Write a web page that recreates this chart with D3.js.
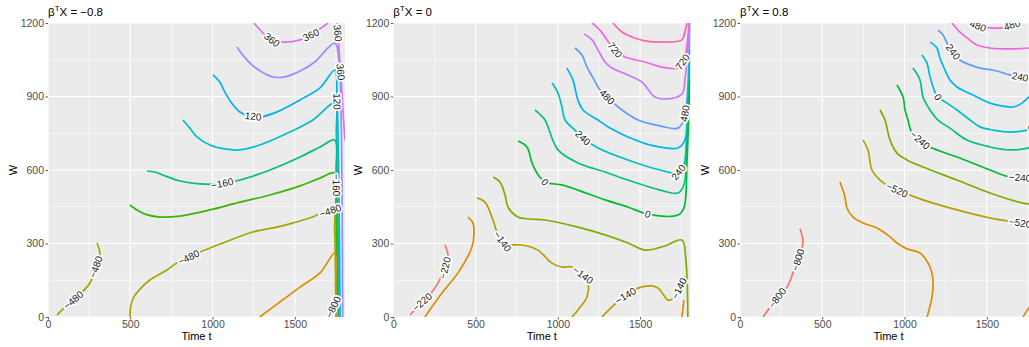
<!DOCTYPE html>
<html>
<head>
<meta charset="utf-8">
<script src="https://cdn.jsdelivr.net/npm/d3@7"></script>
<style>
  body { margin: 0; background: #fff; }
  text { font-family: "Liberation Sans", Arial, sans-serif; }
</style>
</head>
<body>
<svg id="chart"></svg>
<script>
// ---- data ----
const timeTicks = [0, 500, 1000, 1500];
const timeMinor = [250, 750, 1250, 1750];
const wTicks = [0, 300, 600, 900, 1200];
const wMinor = [150, 450, 750, 1050];
const panelTitles = ["\u22120.8", "0", "0.8"];

const panel1Levels = [-800, -640, -480, -320, -160, -20, 120, 240, 360, 480];
const panel2Levels = [-220, -180, -140, -70, 0, 120, 240, 360, 480, 600, 720, 840];
const panel3Levels = [-800, -660, -520, -380, -240, -120, 0, 120, 240, 360, 480, 600];

// contour lines: [time t, W]
const panel1Lines = [
  {level: 360, pts: [[1252,1200],[1301,1163],[1361,1131],[1428,1122],[1532,1131],[1598,1151],[1653,1176],[1702,1200]]},
  {level: 360, pts: [[1755,1200],[1762,1150],[1772,1060],[1781,980],[1792,850],[1805,720]]},
  {level: 240, pts: [[1148,1102],[1184,1069],[1239,1029],[1300,1000],[1366,980],[1439,980],[1532,1004],[1621,1041],[1743,1118],[1768,1050],[1782,800],[1788,400],[1791,0]]},
  {level: 120, pts: [[1002,988],[1044,959],[1075,918],[1117,873],[1166,837],[1227,820],[1287,816],[1378,833],[1532,886],[1653,935],[1743,1008],[1756,900],[1768,500],[1775,0]]},
  {level: -20, pts: [[820,804],[862,771],[905,735],[984,702],[1075,686],[1166,682],[1287,702],[1470,755],[1610,804],[1743,873],[1752,750],[1762,400],[1768,0]]},
  {level: -160, pts: [[602,596],[650,592],[711,576],[802,555],[923,543],[1045,543],[1166,559],[1349,600],[1532,653],[1653,694],[1743,722],[1751,600],[1758,300],[1763,0]]},
  {level: -320, pts: [[498,457],[540,437],[589,420],[680,408],[802,412],[984,437],[1166,469],[1349,498],[1532,535],[1653,567],[1743,588],[1749,450],[1755,200],[1758,0]]},
  {level: -480, pts: [[498,0],[504,49],[522,82],[559,114],[619,151],[723,192],[783,220],[923,265],[1063,302],[1245,347],[1391,367],[1488,384],[1591,404],[1731,437],[1742,350],[1748,150],[1752,0]]},
  {level: -480, pts: [[55,8],[103,40],[176,82],[255,139],[285,192],[316,253],[298,302]]},
  {level: -640, pts: [[1287,0],[1409,61],[1532,122],[1653,180],[1743,261],[1748,120],[1751,0]]},
  {level: -800, pts: [[1712,0],[1730,35],[1748,60],[1756,30],[1759,0]]}
];
const panel1Labels = [
  {text: "360", at: [1361,1131]}, {text: "360", at: [1598,1151]},
  {text: "360", at: [1762,1159]}, {text: "360", at: [1781,1000]},
  {text: "120", at: [1246,816]}, {text: "120", at: [1762,880]},
  {text: "\u2212160", at: [1058,547]}, {text: "\u2212160", at: [1754,539]},
  {text: "\u2212480", at: [1714,437]}, {text: "\u2212480", at: [851,249]},
  {text: "\u2212480", at: [164,61]}, {text: "\u2212480", at: [310,200]},
  {text: "\u2212800", at: [1735,40]}
];

const panel2Lines = [
  {level: 840, pts: [[1335,1200],[1390,1163],[1451,1143],[1530,1127],[1633,1122],[1754,1131],[1772,1163],[1785,1200]]},
  {level: 720, pts: [[1208,1200],[1256,1171],[1299,1131],[1347,1090],[1408,1061],[1530,1041],[1633,1020],[1730,1016],[1766,1049],[1785,1110],[1797,1200]]},
  {level: 600, pts: [[1159,1155],[1208,1131],[1244,1090],[1287,1041],[1329,1016],[1426,988],[1511,959],[1590,898],[1651,890],[1754,910],[1772,967],[1790,1090],[1802,1200]]},
  {level: 480, pts: [[1104,1098],[1147,1069],[1177,1020],[1214,976],[1256,927],[1299,898],[1390,845],[1488,804],[1621,780],[1730,771],[1766,804],[1785,886],[1797,1049],[1809,1200]]},
  {level: 360, pts: [[1055,1016],[1092,967],[1122,886],[1153,845],[1244,804],[1317,771],[1426,735],[1560,702],[1730,690],[1772,722],[1790,886],[1802,1090]]},
  {level: 240, pts: [[965,955],[1001,914],[1025,857],[1044,804],[1104,763],[1153,731],[1244,690],[1426,641],[1621,600],[1730,588],[1766,620],[1785,804],[1802,1049]]},
  {level: 120, pts: [[861,845],[922,804],[940,776],[1001,682],[1122,629],[1287,592],[1426,559],[1621,518],[1730,506],[1766,539],[1785,722],[1802,1008]]},
  {level: 0, pts: [[758,718],[812,694],[843,629],[873,588],[922,551],[1025,539],[1122,518],[1287,478],[1426,449],[1547,420],[1730,416],[1766,445],[1785,641],[1802,967]]},
  {level: -70, pts: [[607,571],[648,551],[679,498],[697,449],[758,408],[831,400],[922,396],[1122,367],[1287,335],[1426,302],[1530,273],[1651,290],[1754,314],[1778,233],[1790,0]]},
  {level: -140, pts: [[509,486],[557,469],[606,396],[636,335],[679,294],[721,294],[782,294],[879,273],[964,220],[1025,204],[1086,204],[1153,171],[1183,139],[1177,82],[1122,29],[1086,0]]},
  {level: -140, pts: [[1268,0],[1329,41],[1390,78],[1487,118],[1572,127],[1609,118],[1651,82],[1669,69],[1712,82],[1754,139],[1772,165]]},
  {level: -180, pts: [[454,408],[484,384],[490,335],[478,286],[393,180],[296,98],[192,0]]},
  {level: -180, pts: [[1754,0],[1766,69]]},
  {level: -220, pts: [[314,294],[332,253],[314,200],[272,139],[211,82],[175,61],[102,8]]}
];
const panel2Labels = [
  {text: "720", at: [1347,1090]}, {text: "720", at: [1760,1040]},
  {text: "480", at: [1299,898]}, {text: "480", at: [1780,830]},
  {text: "240", at: [1153,731]}, {text: "240", at: [1730,592]},
  {text: "0", at: [922,551]}, {text: "0", at: [1547,420]},
  {text: "\u2212140", at: [649,302]}, {text: "\u2212140", at: [1153,171]},
  {text: "\u2212140", at: [1408,90]}, {text: "\u2212140", at: [1730,118]},
  {text: "\u2212220", at: [314,200]}, {text: "\u2212220", at: [175,61]}
];

const panel3Lines = [
  {level: 480, pts: [[1398,1200],[1446,1188],[1519,1180],[1592,1180],[1653,1192],[1702,1200]]},
  {level: 480, pts: [[1288,1200],[1337,1163],[1380,1139],[1440,1110],[1519,1098],[1641,1094],[1756,1098],[1805,1102]]},
  {level: 240, pts: [[1203,1171],[1234,1151],[1264,1110],[1295,1082],[1337,1049],[1398,1029],[1459,1016],[1538,1008],[1641,988],[1702,980],[1756,988],[1805,1000]]},
  {level: 120, pts: [[1155,1122],[1197,1098],[1215,1057],[1246,1008],[1276,967],[1319,939],[1416,906],[1519,873],[1598,861],[1659,857],[1714,873],[1756,898],[1805,927]]},
  {level: 0, pts: [[1106,1069],[1136,1037],[1155,980],[1185,918],[1203,898],[1258,873],[1319,845],[1398,804],[1459,776],[1538,763],[1641,755],[1744,763],[1805,780]]},
  {level: -120, pts: [[1051,1016],[1094,967],[1112,898],[1155,845],[1203,804],[1276,771],[1380,722],[1519,694],[1641,682],[1756,690],[1805,702]]},
  {level: -240, pts: [[954,947],[991,898],[1003,845],[1021,804],[1045,751],[1094,722],[1155,694],[1319,653],[1519,600],[1641,571],[1756,567],[1805,576]]},
  {level: -380, pts: [[851,845],[881,804],[912,722],[954,669],[1015,641],[1112,612],[1319,559],[1519,506],[1720,465],[1805,461]]},
  {level: -520, pts: [[748,722],[778,682],[802,600],[851,559],[912,531],[954,518],[1112,478],[1319,437],[1519,404],[1623,392],[1702,384],[1805,380]]},
  {level: -660, pts: [[608,551],[638,490],[650,445],[687,408],[748,384],[833,363],[912,327],[954,302],[1015,278],[1094,261],[1155,204],[1173,151],[1167,82],[1137,0]]},
  {level: -660, pts: [[1720,0],[1756,37],[1805,69]]},
  {level: -800, pts: [[365,360],[383,302],[352,233],[322,180],[286,122],[231,82],[140,0]]}
];
const panel3Labels = [
  {text: "480", at: [1446,1188]}, {text: "480", at: [1653,1192]},
  {text: "240", at: [1295,1082]}, {text: "240", at: [1702,980]},
  {text: "0", at: [1203,898]}, {text: "0", at: [1762,780]},
  {text: "\u2212240", at: [1094,722]}, {text: "\u2212240", at: [1702,571]},
  {text: "\u2212520", at: [954,518]}, {text: "\u2212520", at: [1702,384]},
  {text: "\u2212800", at: [352,233]}, {text: "\u2212800", at: [225,78]}
];

// ggplot hue palettes
const hue10 = ["#F8766D","#D89000","#A3A500","#39B600","#00BF7D","#00BFC4","#00B0F6","#9590FF","#E76BF3","#FF62BC"];
const hue12 = ["#F8766D","#DE8C00","#B79F00","#7CAE00","#00BA38","#00C08B","#00BFC4","#00B4F0","#619CFF","#C77CFF","#F564E3","#FF64B0"];

const width = 1029, height = 347;
const plotTop = 23, plotBottom = 317, panelW = 297;

const svg = d3.select('#chart').attr('width', width).attr('height', height);

const panels = [
  {left: 48, title: panelTitles[0], lines: panel1Lines, labels: panel1Labels, levels: panel1Levels, pal: hue10},
  {left: 393.3, title: panelTitles[1], lines: panel2Lines, labels: panel2Labels, levels: panel2Levels, pal: hue12},
  {left: 740, title: panelTitles[2], lines: panel3Lines, labels: panel3Labels, levels: panel3Levels, pal: hue12}
];

function nearestOnLine(pts, at) {
  let best = null;
  for (let i = 0; i < pts.length - 1; i++) {
    const [x1, y1] = pts[i], [x2, y2] = pts[i + 1];
    const dx = x2 - x1, dy = y2 - y1;
    const L2 = dx * dx + dy * dy || 1;
    let u = ((at[0] - x1) * dx + (at[1] - y1) * dy) / L2;
    u = Math.max(0, Math.min(1, u));
    const px = x1 + u * dx, py = y1 + u * dy;
    const d = (px - at[0]) ** 2 + (py - at[1]) ** 2;
    if (!best || d < best.d) best = {d, px, py, ang: Math.atan2(dy, dx) * 180 / Math.PI};
  }
  return best;
}

panels.forEach((p, i) => {
  const x = d3.scaleLinear().domain([0, 1805]).range([p.left, p.left + panelW]);
  const y = d3.scaleLinear().domain([0, 1200]).range([plotBottom, plotTop]);
  const color = d3.scaleOrdinal().domain(p.levels).range(p.pal);

  const g = svg.append('g');
  const clipId = 'clip' + i;
  svg.append('clipPath').attr('id', clipId)
    .append('rect').attr('x', x(0)).attr('y', plotTop).attr('width', panelW).attr('height', plotBottom - plotTop);

  g.append('rect')
    .attr('x', x(0)).attr('y', plotTop).attr('width', panelW).attr('height', plotBottom - plotTop)
    .attr('fill', '#EBEBEB');

  const grid = g.append('g').attr('clip-path', `url(#${clipId})`);
  grid.selectAll('.vminor').data(timeMinor).enter().append('line')
    .attr('x1', d => x(d)).attr('x2', d => x(d)).attr('y1', plotTop).attr('y2', plotBottom)
    .attr('stroke', '#fff').attr('stroke-width', 0.55);
  grid.selectAll('.hminor').data(wMinor).enter().append('line')
    .attr('y1', d => y(d)).attr('y2', d => y(d)).attr('x1', x(0)).attr('x2', x(0) + panelW)
    .attr('stroke', '#fff').attr('stroke-width', 0.55);
  grid.selectAll('.vmajor').data(timeTicks).enter().append('line')
    .attr('x1', d => x(d)).attr('x2', d => x(d)).attr('y1', plotTop).attr('y2', plotBottom)
    .attr('stroke', '#fff').attr('stroke-width', 1.1);
  grid.selectAll('.hmajor').data(wTicks).enter().append('line')
    .attr('y1', d => y(d)).attr('y2', d => y(d)).attr('x1', x(0)).attr('x2', x(0) + panelW)
    .attr('stroke', '#fff').attr('stroke-width', 1.1);

  const line = d3.line().x(d => x(d[0])).y(d => y(d[1])).curve(d3.curveCatmullRom.alpha(0.5));
  const marks = g.append('g').attr('clip-path', `url(#${clipId})`);
  marks.selectAll('path').data(p.lines).enter().append('path')
    .attr('d', d => line(d.pts))
    .attr('fill', 'none')
    .attr('stroke', d => color(d.level))
    .attr('stroke-width', 1.7)
    .attr('stroke-linejoin', 'round')
    .attr('stroke-linecap', 'butt');

  // contour labels
  marks.selectAll('text').data(p.labels).enter().append('text')
    .attr('transform', d => {
      const lv = d.text.replace('\u2212', '-');
      const cands = p.lines.filter(l => String(l.level) === lv);
      const at = [x(d.at[0]), y(d.at[1])];
      let best = null;
      cands.forEach(l => {
        const r = nearestOnLine(l.pts.map(q => [x(q[0]), y(q[1])]), at);
        if (!best || r.d < best.d) best = r;
      });
      let a = best.ang;
      if (a > 90) a -= 180;
      if (a < -90) a += 180;
      return `translate(${best.px},${best.py}) rotate(${a})`;
    })
    .attr('text-anchor', 'middle')
    .attr('dy', '0.35em')
    .attr('font-size', 10)
    .attr('fill', '#1a1a1a')
    .attr('stroke', '#fff')
    .attr('stroke-width', 3.5)
    .attr('stroke-linejoin', 'round')
    .attr('paint-order', 'stroke')
    .text(d => d.text);

  // axes
  const yAxis = d3.axisLeft(y).tickValues(wTicks).tickSize(2.5).tickPadding(1.5).tickFormat(d3.format('d'));
  const yg = g.append('g').attr('transform', `translate(${x(0)},0)`).call(yAxis);
  const xAxis = d3.axisBottom(x).tickValues(timeTicks).tickSize(2.5).tickPadding(1.5).tickFormat(d3.format('d'));
  const xg = g.append('g').attr('transform', `translate(0,${plotBottom})`).call(xAxis);
  [yg, xg].forEach(a => {
    a.select('.domain').remove();
    a.selectAll('.tick line').attr('stroke', '#333').attr('stroke-width', 0.8);
    a.selectAll('.tick text').attr('fill', '#4D4D4D').attr('font-size', 10.5)
      .attr('font-family', '"Liberation Sans", Arial, sans-serif');
  });

  // axis titles
  g.append('text')
    .attr('x', x(0) + panelW / 2).attr('y', 340)
    .attr('text-anchor', 'middle').attr('font-size', 11).attr('fill', '#000')
    .text('Time t');
  g.append('text')
    .attr('transform', `translate(${x(0) - 31},170) rotate(-90)`)
    .attr('text-anchor', 'middle').attr('font-size', 11).attr('fill', '#000')
    .text('W');

  // panel title: beta^T X = value
  const t = g.append('text').attr('x', x(0)).attr('y', 15.5).attr('font-size', 11.5).attr('fill', '#000');
  t.append('tspan').text('\u03B2');
  t.append('tspan').attr('dy', -4.5).attr('font-size', 8).text('T');
  t.append('tspan').attr('dy', 4.5).text('X = ' + p.title);
});
</script>
</body>
</html>
